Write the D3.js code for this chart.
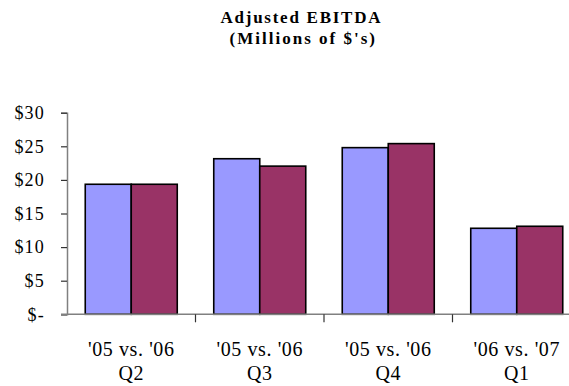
<!DOCTYPE html>
<html>

<head>
    <meta charset="utf-8">
    <script src="https://cdn.jsdelivr.net/npm/d3@7"></script>
    <style>
        body { margin: 0; background: #fff; }
        text { font-family: "Liberation Serif", "Times New Roman", serif; fill: #000; }
    </style>
</head>

<body>
    <div id="container"></div>
    <script>
        // chart data
        const categories = ["'05 vs. '06|Q2", "'05 vs. '06|Q3", "'05 vs. '06|Q4", "'06 vs. '07|Q1"];
        const series = ["prior", "current"];
        const priorValues = [19.35, 23.15, 24.8, 12.8];
        const currentValues = [19.35, 22.05, 25.4, 13.1];
        const yTicks = [0, 5, 10, 15, 20, 25, 30];

        const width = 569, height = 386;
        const colors = { prior: "#9999FF", current: "#993366" };

        const svg = d3.select("#container").append("svg")
            .attr("width", width)
            .attr("height", height);

        // title, stretched to the width it has in the original
        const title = svg.append("g")
            .style("font-weight", "bold")
            .style("font-size", "17px");
        title.append("text")
            .attr("x", 220.5).attr("y", 23)
            .attr("textLength", 160)
            .attr("lengthAdjust", "spacing")
            .text("Adjusted EBITDA");
        title.append("text")
            .attr("x", 229.5).attr("y", 44)
            .attr("textLength", 145.5)
            .attr("lengthAdjust", "spacing")
            .text("(Millions of $'s)");

        const x0 = d3.scaleBand()
            .domain(categories)
            .range([67, 581])
            .paddingInner(0.284)
            .paddingOuter(0.142);

        const x1 = d3.scaleBand()
            .domain(series)
            .range([0, x0.bandwidth()]);

        const y = d3.scaleLinear()
            .domain([0, 30])
            .range([314.3, 112.7]);

        const rows = categories.map((c, i) => ({
            cat: c,
            vals: [
                { key: "prior", value: priorValues[i] },
                { key: "current", value: currentValues[i] }
            ]
        }));

        // bars
        svg.append("g")
            .selectAll("g")
            .data(rows)
            .join("g")
            .attr("transform", d => `translate(${x0(d.cat)},0)`)
            .selectAll("rect")
            .data(d => d.vals)
            .join("rect")
            .attr("x", d => x1(d.key))
            .attr("y", d => y(d.value))
            .attr("width", x1.bandwidth())
            .attr("height", d => y(0) - y(d.value))
            .attr("fill", d => colors[d.key])
            .attr("stroke", "#000")
            .attr("stroke-width", 1.6);

        // y axis
        const yAxis = svg.append("g")
            .attr("transform", "translate(67,0)")
            .call(d3.axisLeft(y)
                .tickValues(yTicks)
                .tickSize(6)
                .tickPadding(16)
                .tickFormat(d => d === 0 ? "$-" : "$" + d));
        yAxis.select(".domain").attr("stroke", "#808080").attr("stroke-width", 1.5);
        yAxis.selectAll(".tick line").attr("stroke", "#333").attr("stroke-width", 1.2);
        yAxis.selectAll("text")
            .style("font-size", "18px")
            .style("letter-spacing", "1.2px")
            .attr("fill", "#000");

        // x axis
        const xAxis = svg.append("g")
            .attr("transform", `translate(0,${y(0)})`);
        xAxis.append("line")
            .attr("x1", 61).attr("x2", width)
            .attr("stroke", "#808080")
            .attr("stroke-width", 1.5);
        const step = x0.step();
        xAxis.selectAll("line.tick")
            .data(categories.slice(1))
            .join("line")
            .attr("class", "tick")
            .attr("x1", d => x0(d) - step * 0.142)
            .attr("x2", d => x0(d) - step * 0.142)
            .attr("y1", 0).attr("y2", 8)
            .attr("stroke", "#333")
            .attr("stroke-width", 1.2);

        const labels = xAxis.selectAll("text")
            .data(categories)
            .join("text")
            .attr("text-anchor", "middle")
            .style("font-size", "20px")
            .style("letter-spacing", "0.6px");
        labels.append("tspan")
            .attr("x", d => x0(d) + x0.bandwidth() / 2)
            .attr("y", 42)
            .text(d => d.split("|")[0]);
        labels.append("tspan")
            .attr("x", d => x0(d) + x0.bandwidth() / 2)
            .attr("y", 66)
            .text(d => d.split("|")[1]);
    </script>
</body>

</html>
